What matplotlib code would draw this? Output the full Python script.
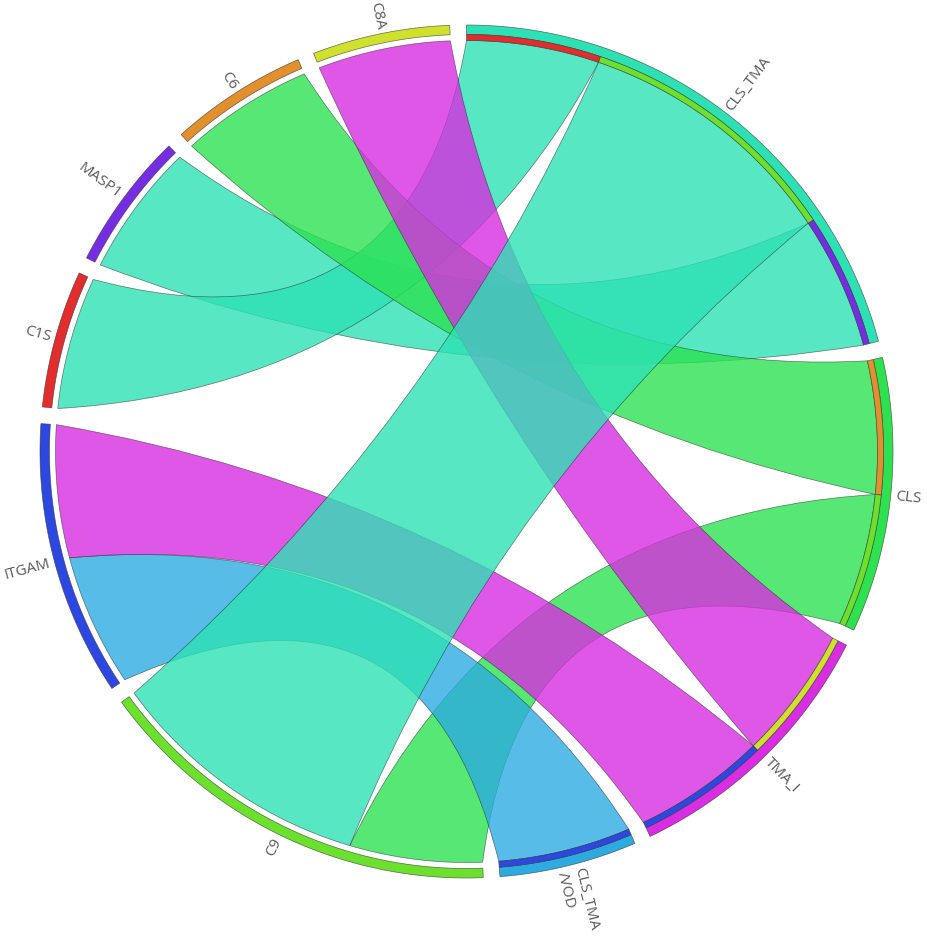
import colorsys
import numpy as np
import matplotlib.pyplot as plt
from matplotlib.path import Path
from matplotlib.patches import PathPatch

# =========================
# 1) DATA
# =========================

# nodes clockwise from 12 o'clock
nodes = ["CLS_TMA", "CLS", "TMA_I", "CLS_TMA/VOD", "C9", "ITGAM", "C1S", "MASP1", "C6", "C8A"]
labels = ["CLS_TMA", "CLS", "TMA_I", "CLS_TMA\n/VOD", "C9", "ITGAM", "C1S", "MASP1", "C6", "C8A"]

# links (listed in drawing order)
sources = ["MASP1", "C1S", "C6", "C9", "ITGAM", "C8A", "ITGAM", "C9"]
targets = ["CLS_TMA", "CLS_TMA", "CLS", "CLS", "CLS_TMA/VOD", "TMA_I", "TMA_I", "CLS_TMA"]
values = [1, 1, 1, 1, 1, 1, 1, 2]

# =========================
# 2) LAYOUT / STYLE
# =========================

W, H = 928, 936
CX, CY = 466.5, 451.5
R_OUT, R_MID, R_IN = 426.5, 417.0, 411.0
R_LABEL = 431.0
GAP = 2.25      # degrees between nodes
PULL = 0.3      # how far the ribbon control point moves from centre toward the chord
ALPHA = 0.8

# hue wheel over alphabetical node names
alpha_sorted = sorted(nodes)
colors = {}
for i, n in enumerate(alpha_sorted):
    colors[n] = colorsys.hls_to_rgb(i * 33 / 360.0, 0.53, 0.75)


def pt(r, b):
    b = np.radians(b)
    return CX + r * np.sin(b), CY - r * np.cos(b)


def arc(r, b0, b1, n=None):
    if n is None:
        n = max(int(abs(b1 - b0) * 2), 4)
    bs = np.linspace(b0, b1, n)
    return [pt(r, b) for b in bs]


def ctrl(p, q):
    mx, my = (p[0] + q[0]) / 2, (p[1] + q[1]) / 2
    return CX + PULL * (mx - CX), CY + PULL * (my - CY)


def band(ax, r0, r1, b0, b1, color):
    verts = arc(r1, b0, b1) + arc(r0, b1, b0)
    verts.append(verts[0])
    codes = [Path.MOVETO] + [Path.LINETO] * (len(verts) - 2) + [Path.CLOSEPOLY]
    ax.add_patch(PathPatch(Path(verts, codes), facecolor=color,
                           edgecolor=(0.2, 0.2, 0.2, 0.7), lw=0.5))


def ribbon(ax, a0, a1, b0, b1, color):
    verts, codes = [], []
    sa = arc(R_IN, a0, a1)
    verts += sa
    codes += [Path.MOVETO] + [Path.LINETO] * (len(sa) - 1)
    p_b0 = pt(R_IN, b0)
    verts += [ctrl(sa[-1], p_b0), p_b0]
    codes += [Path.CURVE3, Path.CURVE3]
    ta = arc(R_IN, b0, b1)[1:]
    verts += ta
    codes += [Path.LINETO] * len(ta)
    verts += [ctrl(ta[-1], sa[0]), sa[0]]
    codes += [Path.CURVE3, Path.CURVE3]
    verts.append(verts[0])
    codes.append(Path.CLOSEPOLY)
    ax.add_patch(PathPatch(Path(verts, codes), facecolor=(*color, ALPHA),
                           edgecolor=(0.15, 0.15, 0.15, 0.6), lw=0.5))


# node totals and spans
totals = {n: 0 for n in nodes}
for s, t, v in zip(sources, targets, values):
    totals[s] += v
    totals[t] += v
unit = (360.0 - GAP * len(nodes)) / sum(totals.values())

span = {}
pos = 0.0
for n in nodes:
    span[n] = (pos, pos + totals[n] * unit)
    pos = span[n][1] + GAP

# sub-arcs: links at each node ordered by the other node's name
sub = {}
for n in nodes:
    links = [i for i in range(len(values)) if sources[i] == n or targets[i] == n]
    links.sort(key=lambda i: targets[i] if sources[i] == n else sources[i])
    p = span[n][0]
    for i in links:
        sub[(i, n)] = (p, p + values[i] * unit)
        p += values[i] * unit

# =========================
# 3) PLOT
# =========================

fig = plt.figure(figsize=(W / 100, H / 100), dpi=100)
ax = fig.add_axes([0, 0, 1, 1])
ax.set_xlim(0, W)
ax.set_ylim(H, 0)
ax.axis("off")

for i, (s, t) in enumerate(zip(sources, targets)):
    a0, a1 = sub[(i, s)]
    b0, b1 = sub[(i, t)]
    ribbon(ax, a0, a1, b0, b1, colors[t])

# outer node bars
for n in nodes:
    band(ax, R_MID, R_OUT, span[n][0], span[n][1], colors[n])

# inner bars on target nodes, coloured by source
for i, t in enumerate(targets):
    b0, b1 = sub[(i, t)]
    band(ax, R_IN, R_MID, b0, b1, colors[sources[i]])

# labels
for n, lab in zip(nodes, labels):
    mid = (span[n][0] + span[n][1]) / 2
    x, y = pt(R_LABEL, mid)
    rot = 90 - mid
    ha = "left"
    if 180 < mid < 360:
        rot += 180
        ha = "right"
    ax.text(x, y, lab, rotation=rot, rotation_mode="anchor", ha=ha, va="center",
            fontsize=11, color="#5a5a5a", family=["Open Sans", "DejaVu Sans"])

fig.savefig("out.png", dpi=100)
